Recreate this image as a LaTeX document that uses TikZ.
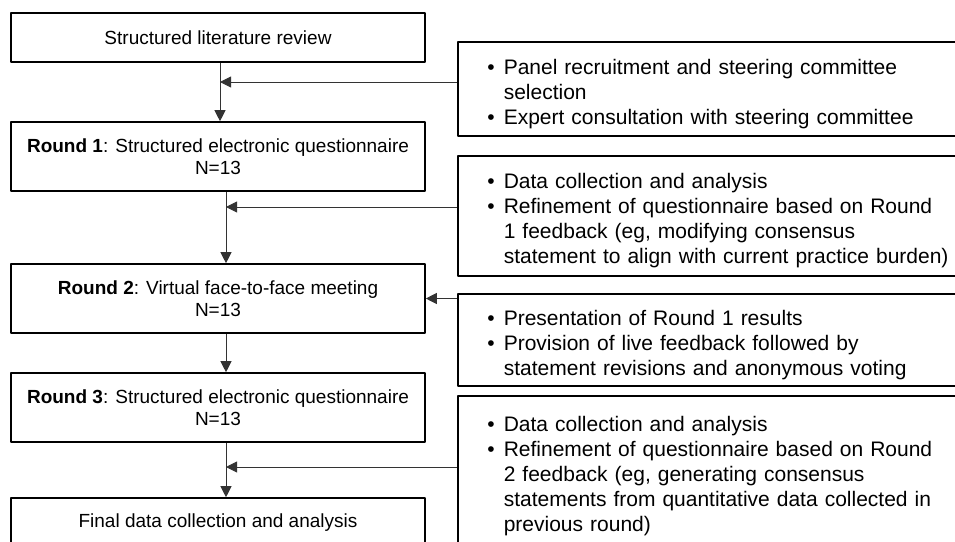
\documentclass[tikz,border=0pt]{standalone}
\usepackage{fontspec}
\setmainfont{Liberation Sans}
\usepackage{enumitem}
\setlist[itemize]{label=\textbullet, leftmargin=46pt, labelsep=9pt, itemsep=0pt, topsep=0pt, parsep=0pt, partopsep=0pt}
\usetikzlibrary{arrows.meta}
\begin{document}
\begin{tikzpicture}[x=1pt, y=-1pt, >={Triangle[length=11pt,width=11pt]}, line join=round,
	stage/.style={draw, line width=1.6pt, minimum width=414pt, inner sep=0pt, align=center, font=\fontsize{19}{22}\selectfont},
	note/.style={draw, line width=1.6pt, anchor=north west, text width=520pt, inner sep=0pt, align=left, font=\fontsize{21}{25}\selectfont},
	link/.style={->, line width=0.9pt, draw=black!80}]
	\useasboundingbox (0,0) rectangle (955,541);
	\clip (0,0) rectangle (955,541);
	% Delphi rounds
	\node[stage, minimum height=49pt] (lit) at (218,37.5) {Structured literature review};
	\node[stage, minimum height=69pt] (r1) at (218,156.5) {\textbf{Round 1}: Structured electronic questionnaire\\N=13};
	\node[stage, minimum height=69pt] (r2) at (218,298.5) {\textbf{Round 2}: Virtual face-to-face meeting\\N=13};
	\node[stage, minimum height=69pt] (r3) at (218,407.5) {\textbf{Round 3}: Structured electronic questionnaire\\N=13};
	\node[stage, minimum height=49pt] (final) at (218,522.5) {Final data collection and analysis};
	% activities
	\node[note, minimum height=94pt] (prep) at (457,41) {\begin{itemize}
		\item Panel recruitment and steering committee\newline selection
		\item Expert consultation with steering committee
	\end{itemize}};
	\node[note, minimum height=120pt] (fb1) at (457,155) {\begin{itemize}
		\item Data collection and analysis
		\item Refinement of questionnaire based on Round\newline 1 feedback (eg, modifying consensus\newline statement to align with current practice burden)
	\end{itemize}};
	\node[note, minimum height=92pt] (meet) at (457,293) {\begin{itemize}
		\item Presentation of Round 1 results
		\item Provision of live feedback followed by\newline statement revisions and anonymous voting
	\end{itemize}};
	\node[note, minimum height=150pt] (fb2) at (457,395) {\begin{itemize}
		\item Data collection and analysis
		\item Refinement of questionnaire based on Round\newline 2 feedback (eg, generating consensus\newline statements from quantitative data collected in\newline previous round)
	\end{itemize}};
	% flow
	\coordinate (j1) at (220,82);
	\coordinate (j2) at (226,207);
	\coordinate (j4) at (226,467);
	\draw[link] ([xshift=2pt]lit.south) -- ([xshift=2pt]r1.north);
	\draw[link] ([xshift=8pt]r1.south) -- ([xshift=8pt]r2.north);
	\draw[link] ([xshift=8pt]r2.south) -- ([xshift=8pt]r3.north);
	\draw[link] ([xshift=8pt]r3.south) -- ([xshift=8pt]final.north);
	\draw[link] (prep.west |- j1) -- (j1);
	\draw[link] (fb1.west |- j2) -- (j2);
	\draw[link] (meet.west |- r2.east) -- (r2.east);
	\draw[link] (fb2.west |- j4) -- (j4);
\end{tikzpicture}
\end{document}
